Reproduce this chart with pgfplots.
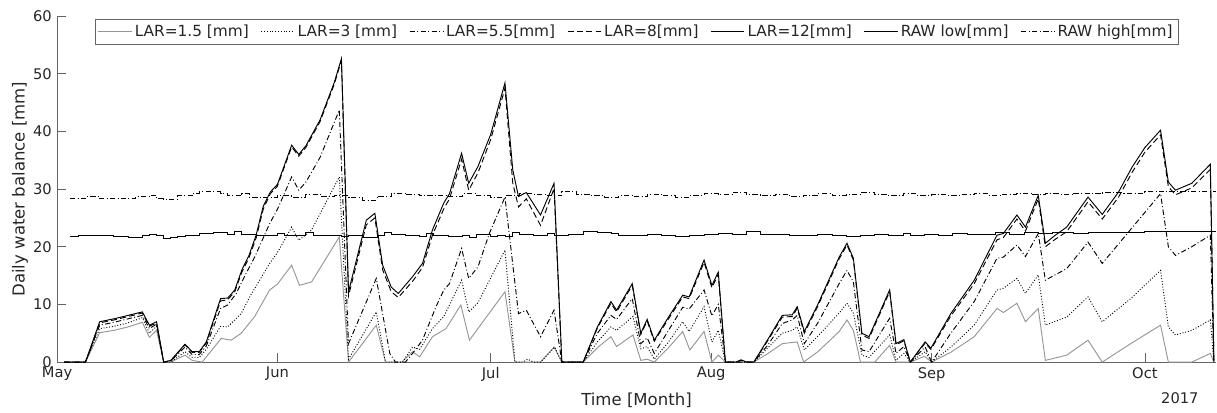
\documentclass[border=0pt]{standalone}
\usepackage{fontspec}
\setmainfont{DejaVu Sans}
\usepackage{pgfplots}
\pgfplotsset{compat=1.18}
\usetikzlibrary{calc}
\definecolor{txt}{RGB}{38,38,38}
\definecolor{axl}{RGB}{100,100,100}
\definecolor{lgray}{RGB}{150,150,150}
\begin{document}
\begin{tikzpicture}
\begin{axis}[
  scale only axis,
  width=869pt, height=259.5pt,
  xmin=0, xmax=163, ymin=0, ymax=60,
  clip mode=individual,
  axis x line*=bottom, axis y line*=left,
  axis line style={axl, line width=0.6pt},
  tick align=inside, major tick length=7pt,
  tick style={axl, line width=0.6pt},
  xtick={0,31,61,92,123,153},
  xticklabels={May,Jun,Jul,Aug,Sep,Oct},
  ytick={0,10,...,60},
  /pgf/number format/assume math mode=true,
  tick label style={font=\fontsize{11}{13}\selectfont, text=txt, inner sep=1pt},
  xticklabel style={yshift=-2.7pt},
  yticklabel style={xshift=-2.7pt},
  xlabel={Time [Month]}, ylabel={Daily water balance [mm]},
  label style={font=\fontsize{12.4}{14}\selectfont, text=txt},
  xlabel style={at={(axis description cs:0.5,0)}, anchor=center, yshift=-28.5pt},
  ylabel style={at={(axis description cs:-0.0319,0.5)}, anchor=center},
  legend columns=7,
  legend style={at={(0.5,0.99)}, anchor=north, draw=axl, line width=0.5pt,
    font=\fontsize{11.5}{13}\selectfont, text=txt, inner sep=2pt,
    /tikz/every odd column/.append style={column sep=0pt},
    /tikz/every even column/.append style={column sep=7pt}},
  legend image code/.code={\draw[#1] (0pt,0pt) -- (25pt,0pt);},
  every axis plot/.append style={line width=0.7pt},
]
% LAR = 1.5
\addplot[lgray] coordinates {
(1,0)(4,0)(6,5.1)(8,5.5)(10,6.1)(12,6.9)(13,4.3)(14,5.5)(15,0)(16,0)(18,1.2)(19,0.3)(20.4,0)
(23.1,4.1)(24.5,3.8)(25.9,5)(27.8,7.9)(29.9,12.5)(31,13.5)(33,16.8)(34.1,13.3)(35.8,13.9)(39.7,21.7)
(41,0)(44.9,6.4)(46.2,0)(48.5,0)(50,1.8)(51,0.9)(52.8,4.4)(54.7,5.8)(56.8,9.9)(58,3.8)(63,12.2)
(64.4,0)(68,0)(69.9,2.6)(71,0)(74,0)(76,2.5)(77.9,4.4)(78.7,2.7)(81,4.7)(82.1,0.3)(83,0.5)(84,0)
(86,2.5)(88,5.3)(89,2.1)(91,5.3)(92.1,0)(93,1.2)(94,0)(98,0)(100,1.5)(102,3.2)(104.1,3.5)(105,0)
(107,1.8)(110,5.3)(111.1,7.3)(112,5.5)(113,0)(115,0)(117.1,2.9)(118,0)(120,0)(122,1)(123,0)
(125.7,1.7)(129,4.4)(132.2,9.3)(133.1,8.6)(135,10.2)(136.2,7)(138,9.3)(139,0.3)(142,1.2)(145,3.8)
(147,0)(151,3.2)(155.2,6.4)(156.3,0)(159.6,0)(162.2,1.5)(162.7,0)
};
\addlegendentry{LAR=1.5 [mm]}
% LAR = 3
\addplot[black, dash pattern=on 0.7pt off 1.4pt] coordinates {
(1,0)(4,0)(6,5.8)(8,6.2)(10,6.8)(12,7.7)(13,5.0)(14,6.2)(15,0)(16,0)(18,1.8)(19,0.8)(20,0.8)(21,2.2)
(23,6.2)(24,6.1)(25.9,8.4)(27.1,11.3)(29.9,17.1)(31,19)(33,23.4)(34,21.1)(35.8,22.9)(39.7,32.1)
(41,0.5)(44.9,8.7)(46.2,0)(48.6,0)(50,2.6)(51,2.2)(52.8,5.8)(54.4,7.9)(56.9,14.2)(57.9,8.7)(59.2,10.3)
(63,19.4)(64.4,0)(65.5,0)(66.2,0.5)(67,0)(68,0)(70,2.6)(71,0)(74,0)(76,3.5)(77.9,6.1)(78.7,5.5)
(81,7.9)(82.1,2.3)(83,2.7)(84,0.5)(86,3.5)(88,7)(88.9,5.3)(91,9.6)(92.1,3.5)(93,5.5)(94,0)(98,0)
(100,2.5)(102,5)(103.4,5.5)(104.1,6.1)(105.1,2.1)(107,4.5)(110,8.5)(111.1,10.2)(112,8.5)(113.2,1.2)
(114.2,0.8)(117.1,4.7)(118,0.3)(119.1,1.5)(120,0)(122.1,1.8)(123,0)(125.7,2.6)(129,6.4)(132.2,12.5)
(133.1,12.8)(135,14.5)(136.2,11.9)(138,15.1)(139,6.4)(142,7.8)(145,11.3)(147,7.0)(151,11)(155.2,15.9)
(156.3,6.1)(157.3,4.7)(159.6,5.5)(162.2,7.3)(162.7,0)
};
\addlegendentry{LAR=3 [mm]}
% LAR = 5.5
\addplot[black, dash pattern=on 4pt off 1.8pt on 0.7pt off 1.8pt] coordinates {
(1,0)(4,0)(6,6.4)(8,6.9)(10,7.5)(12,8.1)(13,5.8)(14,6.6)(15,0)(16,0.2)(18,2.6)(19,1.3)(20,1.3)(21,2.8)
(23,9.3)(24,9.9)(25.2,11.9)(26.6,15.4)(27.8,18.2)(29.9,24)(31,26.5)(33,32.1)(34,29.8)(35,31.2)(37,35.5)
(39.7,43.7)(41,3.2)(44.9,14.5)(46.8,1.5)(47.6,0)(49,0)(50,1.5)(51.4,3.8)(53.3,9.6)(54.4,12.5)(55.2,13.6)
(56.9,19.7)(57.9,14.5)(59.2,16.5)(60.8,22.3)(63,28.6)(64.9,8.4)(66,9.0)(68,4.4)(69.9,9.0)(71,0)(74,0)
(76,5)(77.9,8.1)(78.7,7.4)(80.9,11)(82.1,3.2)(83,4.2)(84,1.5)(86,5.5)(88,9.5)(88.9,9.2)(91,12.5)
(92.1,8)(93,10)(94,0)(98,0)(100,3)(102,6.7)(103.4,7.3)(104.1,8.1)(105.1,3.2)(107,6.8)(110,13.6)
(111.1,15.9)(112,13.9)(113.2,2.1)(114.2,1.8)(117.1,7.6)(118,1.5)(119.1,2.7)(120,0)(122.1,2.6)(123,0)
(125.7,5)(129,10.5)(132.2,18)(133.1,18.2)(135,20.3)(136.2,18.3)(138,22.3)(139,14.2)(142,16.2)
(145,20.8)(147,17.1)(151,23)(155.2,29.2)(156.3,20)(157.3,18.5)(159.6,20)(162.2,22)(162.7,0)
};
\addlegendentry{LAR=5.5[mm]}
% LAR = 8
\addplot[black, dash pattern=on 4.5pt off 2.5pt] coordinates {
(1,0)(4,0)(6,6.8)(8,7.3)(10,7.9)(12,8.5)(13,6.2)(14,6.8)(15,0)(16,0.2)(18,3.0)(19,1.7)(20,1.7)(21,3.3)
(23,10.6)(24,10.8)(25,12.2)(26,15.6)(27,18.1)(28,21.5)(29,26.5)(30,29.2)(31,30.5)(33,37.3)(34,35.7)
(35,37.2)(37,41.7)(39,48.2)(40,52.3)(41,11.5)(43.5,23.8)(44.7,25)(45.8,16)(47,12.2)(48,11.2)(50,14)
(51.4,16.4)(52.8,22)(54.4,26.6)(55.2,28.3)(56.9,35.2)(57.9,29.8)(59.2,32.8)(61,38.6)(63,47.5)(64.1,31)
(64.9,26.9)(66,28.3)(68,23.7)(69.9,30.1)(71,0)(74,0)(76,5.9)(77.9,10.2)(78.7,8.7)(80.9,13.3)(82.1,4.8)
(83,7.1)(84,3.6)(86,7.5)(88,11.3)(88.9,11.0)(91,17.3)(92.1,12.9)(93,15.2)(94,0)(95.5,0)(96.2,0.3)
(97,0)(98,0)(100,3.8)(102,7.8)(103.4,7.9)(104.1,9.3)(105.1,5.0)(107,9.7)(110,17.9)(111.1,20.3)
(112,17.7)(113.2,4.7)(114.2,4.1)(117.1,12.2)(118,3.0)(119.1,3.7)(120,0)(122.1,3.3)(122.9,2.2)
(125.7,8.0)(129,13.6)(132.2,21.2)(133.1,21.6)(135,24.8)(136.2,22.7)(138,28.3)(139,20.0)(140.4,21.3)
(142,22.6)(145,27.8)(147,24.8)(149.3,28.6)(151.2,32.9)(153,36.4)(155.2,39.4)(156.3,30.4)(157.3,29.0)
(159.6,30.2)(162.2,33.4)(162.7,0.3)
};
\addlegendentry{LAR=8[mm]}
% LAR = 12
\addplot[black] coordinates {
(1,0)(4,0)(6,7.0)(8,7.5)(10,8.1)(12,8.7)(13,6.4)(14,7.0)(15,0)(16,0.3)(18,3.1)(19,1.8)(20,1.8)(21,3.5)
(23,11)(24,11.1)(25,12.5)(26,16)(27,18.5)(28,22)(29,27)(30,29.5)(31,30.8)(33,37.6)(34,36)(35,37.5)
(37,42)(39,48.5)(40,52.6)(41,12.2)(43.5,24.6)(44.7,25.8)(45.8,16.8)(47,13)(48,11.9)(50,14.8)(51.4,17.1)
(52.8,22.9)(54.4,27.6)(55.2,29.2)(56.9,36.2)(57.9,31)(59.2,33.9)(61,39.5)(63,48.4)(64.1,33.3)(64.9,28.7)
(66,29.4)(68,25.5)(69.9,31)(71,0)(74,0)(76,6.1)(77.9,10.5)(78.7,9)(80.9,13.6)(82.1,5)(83,7.4)(84,3.8)
(86,7.8)(88,11.6)(88.9,11.3)(91,17.7)(92.1,13.3)(93,15.6)(94,0)(95.5,0)(96.2,0.4)(97,0)(98,0)(100,4)
(102,8.1)(103.4,8.2)(104.1,9.6)(105.1,5.3)(107,10)(110,18.2)(111.1,20.6)(112,18)(113.2,5)(114.2,4.4)
(117.1,12.5)(118,3.2)(119.1,3.9)(120,0)(122.1,3.5)(122.9,2.4)(125.7,8.4)(129,14.2)(132.2,22)
(133.1,22.3)(135,25.5)(136.2,23.4)(138,28.9)(139,20.6)(140.4,22)(142,23.4)(145,28.6)(147,25.6)
(149.3,29.5)(151.2,33.8)(153,37.2)(155.2,40.2)(156.3,31.2)(157.3,29.8)(159.6,31)(162.2,34.3)(162.7,0.3)
};
\addlegendentry{LAR=12[mm]}
% RAW low
\addplot[black, const plot] coordinates {
(1.8,21.7)(3,22.0)(6,21.9)(8,21.8)(10,21.6)(12,21.9)(13,22.1)(14,21.9)(15,21.5)(16,21.6)(17,21.8)
(18,22.0)(20,22.3)(22,22.4)(24,22.2)(25,22.6)(26,22.2)(28,22.0)(30,21.9)(31,22.3)(32,22.0)(34,21.9)
(35,22.4)(36,22.0)(38,21.9)(40,21.8)(41,22.0)(43,21.6)(45,22.0)(46,22.5)(47,22.1)(49,22.0)(51,21.8)
(52,22.3)(53,22.0)(55,21.7)(57,21.9)(58,21.6)(59,22.1)(61,21.8)(62,22.0)(63,21.8)(64,22.4)(65,22.1)
(67,22.0)(69,22.3)(70,22.0)(72,22.2)(74,22.6)(76,22.5)(78,22.3)(79,21.9)(81,22.0)(83,22.1)(85,22.0)
(87,21.8)(89,21.9)(91,22.1)(93,22.3)(95,22.2)(97,22.6)(99,22.2)(101,22.1)(103,21.9)(105,22.0)
(107,22.2)(109,22.0)(111,21.8)(113,21.9)(115,22.1)(117,22.0)(119,22.3)(120,22.0)(122,22.1)(124,22.0)
(126,22.3)(128,22.1)(130,22.2)(132,22.4)(134,22.2)(136,22.5)(138,22.3)(140,22.4)(143,22.3)(145,22.5)
(147,22.4)(150,22.5)(153,22.6)(156,22.7)(159,22.6)(163,22.6)
};
\addlegendentry{RAW low[mm]}
% RAW high
\addplot[black, const plot, dash pattern=on 4pt off 1.8pt on 0.7pt off 1.8pt] coordinates {
(1.8,28.4)(4,28.7)(6,28.3)(9,28.4)(11,28.7)(13,28.9)(14,28.3)(15,28.2)(17,28.8)(19,29.2)(20,29.5)
(23,29.3)(24,28.9)(26,29.2)(27,28.6)(29,28.5)(31,28.8)(33,28.6)(35,29.1)(37,28.7)(39,28.9)(41,28.5)
(43,28.1)(45,28.7)(47,29.3)(49,29.0)(51,28.8)(53,28.9)(55,28.7)(57,29.2)(59,28.8)(61,28.6)(63,28.9)
(65,29.2)(67,29.1)(69,28.8)(71,29.5)(73,29.1)(75,28.9)(77,28.6)(79,28.9)(81,28.7)(83,29.1)(85,28.8)
(87,28.6)(89,28.9)(91,29.2)(93,29.0)(95,29.4)(97,29.0)(99,28.8)(101,29.1)(103,28.7)(105,28.9)
(107,29.2)(109,28.9)(111,29.1)(113,29.4)(115,29.0)(117,28.8)(119,29.2)(121,28.9)(123,29.1)(125,28.9)
(127,29.0)(129,29.2)(131,28.9)(133,29.1)(135,29.3)(137,29.0)(139,29.2)(141,29.1)(143,29.3)(145,29.2)
(147,29.4)(150,29.3)(153,29.5)(156,29.6)(159,29.5)(163,29.5)
};
\addlegendentry{RAW high[mm]}
\node[anchor=base east, yshift=-30.75pt, font=\fontsize{11}{13}\selectfont, text=txt]
  at (axis description cs:0.989,0) {2017};
\coordinate (ll) at (rel axis cs:0,0);
\coordinate (ur) at (rel axis cs:1,1);
\end{axis}
\pgfresetboundingbox
\path[use as bounding box] ($(ll)+(-42.75pt,-37.5pt)$) rectangle ($(ur)+(0.75pt,12pt)$);
\end{tikzpicture}
\end{document}
